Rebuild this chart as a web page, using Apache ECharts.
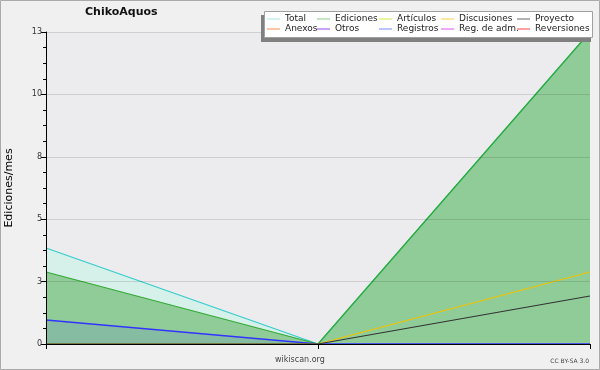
<!DOCTYPE html>
<html>
<head>
<meta charset="utf-8">
<script src="https://cdn.jsdelivr.net/npm/echarts@6/dist/echarts.min.js"></script>
<style>html,body{margin:0;padding:0;background:#f0f0f0}#c{width:600px;height:370px}</style>
</head>
<body>
<div id="c"></div>
<script>
const categories = ['Mes 1', 'Mes 2', 'Mes 3'];
const total = [4, 0, 13];
const ediciones = [3, 0, 13];
const registros = [1, 0, 0];
const discusiones = [0, 0, 3];
const proyecto = [0, 0, 2];
const yTicks = [0, 3, 5, 8, 10, 13];
const legendColumns = [
  ['Total', 'Anexos'],
  ['Ediciones', 'Otros'],
  ['Artículos', 'Registros'],
  ['Discusiones', 'Reg. de adm.'],
  ['Proyecto', 'Reversiones']
];
const legendColors = {
  'Total': '#a8e4e4', 'Ediciones': '#88cc88', 'Artículos': '#ccee44',
  'Discusiones': '#ffcc44', 'Proyecto': '#666666', 'Anexos': '#ff8844',
  'Otros': '#9944ee', 'Registros': '#7788ff', 'Reg. de adm.': '#dd55ee',
  'Reversiones': '#ff4444'
};
const legendLefts = [267, 317, 379, 441, 517];

const FONT = 'DejaVu Sans';
const chart = echarts.init(document.getElementById('c'), null, {renderer: 'canvas'});

function lineSeries(name, data, color, width, area) {
  const s = {
    name: name, type: 'line', data: data, showSymbol: false, symbol: 'none',
    lineStyle: {color: color, width: width}, itemStyle: {color: color},
    emphasis: {disabled: true}, animation: false, z: 2
  };
  if (area) s.areaStyle = area;
  return s;
}

const series = [
  lineSeries('Total', total, '#33cccc', 1.2, {color: '#d6f0ea', opacity: 1}),
  lineSeries('Ediciones', ediciones, '#33aa33', 1.2, {color: '#90cc98', opacity: 1}),
  lineSeries('Registros', registros, '#3333ff', 1.5, {color: 'rgba(51,51,255,0.1)', opacity: 1}),
  lineSeries('Discusiones', discusiones, '#f2c200', 1.2),
  lineSeries('Proyecto', proyecto, '#333333', 1.2)
];
['Artículos', 'Anexos', 'Otros', 'Reg. de adm.', 'Reversiones'].forEach(n => {
  series.push(lineSeries(n, [], legendColors[n], 1));
});

const legends = legendColumns.map((col, i) => ({
  orient: 'vertical', left: legendLefts[i], top: 14, padding: 0,
  itemGap: 0, itemWidth: 13, itemHeight: 1, icon: 'rect',
  selectedMode: false, z: 10,
  textStyle: {fontFamily: FONT, fontSize: 9, color: '#222', lineHeight: 10, padding: [0, 0, 0, 0]},
  data: col.map(n => ({name: n, icon: 'rect', itemStyle: {color: legendColors[n]}}))
}));

chart.setOption({
  backgroundColor: '#f0f0f0',
  animation: false,
  title: {
    text: 'ChikoAquos', left: 85, top: 7, padding: 0,
    textStyle: {fontFamily: FONT, fontSize: 11, fontWeight: 'bold', color: '#111'}
  },
  legend: legends,
  grid: {left: 46, right: 10, top: 32, bottom: 26, show: true, backgroundColor: '#ececef',
         borderWidth: 0, containLabel: false, outerBoundsMode: 'none'},
  xAxis: {
    type: 'category', data: categories, boundaryGap: false, z: 3,
    axisLine: {lineStyle: {color: '#000', width: 1}},
    axisTick: {show: true, length: 5, lineStyle: {color: '#000'}},
    axisLabel: {show: false},
    splitLine: {show: false}
  },
  yAxis: {
    type: 'value', min: 0, max: 13, interval: 2.6, z: 3,
    name: 'Ediciones/mes', nameLocation: 'middle', nameGap: 31, nameRotate: 90,
    nameTextStyle: {fontFamily: FONT, fontSize: 11, color: '#000'},
    axisLine: {show: true, lineStyle: {color: '#000', width: 1}},
    axisTick: {show: true, length: 5, lineStyle: {color: '#000'}},
    minorTick: {show: true, splitNumber: 4, length: 3, lineStyle: {color: '#000'}},
    axisLabel: {
      margin: 4, fontFamily: FONT, fontSize: 8, color: '#333',
      formatter: v => String(yTicks.reduce((a, b) => Math.abs(b - v) < Math.abs(a - v) ? b : a))
    },
    splitLine: {show: true, lineStyle: {color: 'rgba(0,0,0,0.12)', width: 1}}
  },
  graphic: [
    {type: 'rect', z: 100, silent: true, shape: {x: 0.5, y: 0.5, width: 599, height: 369},
     style: {fill: 'none', stroke: '#aaaaaa', lineWidth: 1}},
    {type: 'rect', z: 4, silent: true, shape: {x: 261, y: 15, width: 330, height: 27},
     style: {fill: '#808080'}},
    {type: 'rect', z: 5, silent: true, shape: {x: 264.5, y: 11.5, width: 328, height: 26},
     style: {fill: '#ffffff', stroke: '#a0a0a0', lineWidth: 1}},
    {type: 'text', z: 6, silent: true, left: 275, top: 356,
     style: {text: 'wikiscan.org', fontFamily: FONT, fontSize: 8, fill: '#444'}},
    {type: 'text', z: 6, silent: true, right: 11, top: 358,
     style: {text: 'CC BY-SA 3.0', fontFamily: FONT, fontSize: 6, fill: '#444'}}
  ],
  series: series
});
</script>
</body>
</html>
